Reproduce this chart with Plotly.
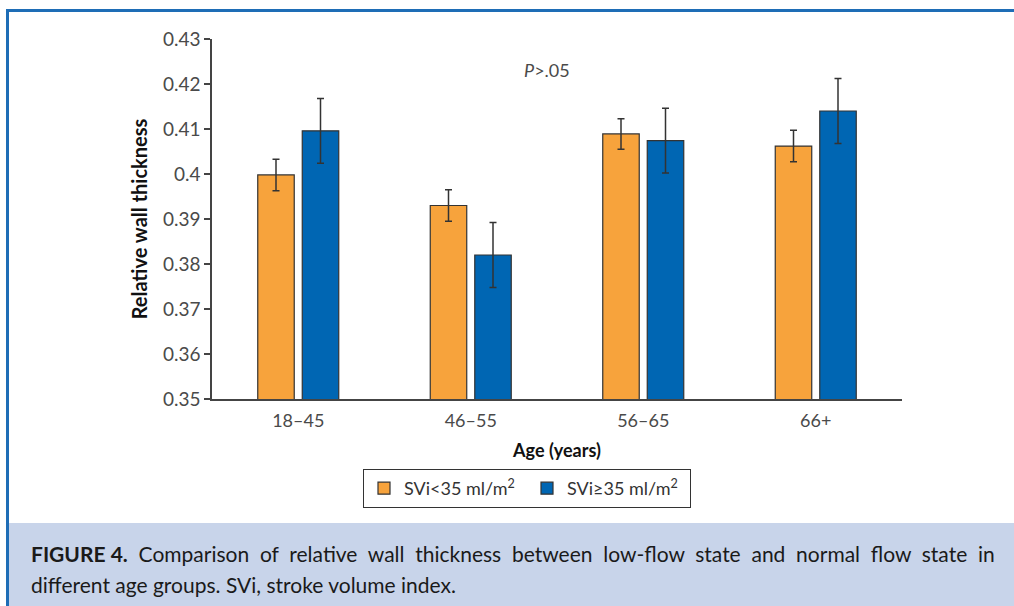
import plotly.graph_objects as go

categories = ["18–45", "46–55", "56–65", "66+"]
low_flow = [0.3998, 0.3930, 0.4089, 0.4062]
low_flow_err = [0.0035, 0.0035, 0.0034, 0.0035]
normal_flow = [0.4096, 0.3820, 0.4074, 0.4140]
normal_flow_err = [0.0072, 0.0072, 0.0072, 0.0072]
y_ticks = [0.35, 0.36, 0.37, 0.38, 0.39, 0.40, 0.41, 0.42, 0.43]
y_tick_text = ["0.35", "0.36", "0.37", "0.38", "0.39", "0.4", "0.41", "0.42", "0.43"]

caption_line1 = "Comparison of relative wall thickness between low-flow state and normal flow state in"
caption_line2 = "different age groups. SVi, stroke volume index."

W, H = 1014, 606
L, R, T, B = 212, 902, 39, 399
FONT = "Lato"


def px(x):
    return (x - L) / (R - L)


def py(y):
    return (B - y) / (B - T)


fig = go.Figure()
fig.add_trace(go.Bar(
    x=categories, y=low_flow, name="SVi<35 ml/m<sup>2</sup>",
    marker=dict(color="#F7A33C", line=dict(color="#333333", width=1.2)),
    error_y=dict(type="data", array=low_flow_err, color="#333333", thickness=1.5, width=3.5),
))
fig.add_trace(go.Bar(
    x=categories, y=normal_flow, name="SVi≥35 ml/m<sup>2</sup>",
    marker=dict(color="#0066B3", line=dict(color="#333333", width=1.2)),
    error_y=dict(type="data", array=normal_flow_err, color="#333333", thickness=1.5, width=3.5),
))

fig.update_layout(
    width=W, height=H,
    margin=dict(l=L, r=W - R, t=T, b=H - B),
    paper_bgcolor="white", plot_bgcolor="white",
    barmode="group", bargap=0.484, bargroupgap=0.18,
    font=dict(family=FONT, size=18, color="#4a4a4a"),
    showlegend=True,
    legend=dict(
        orientation="h", x=px(363), y=py(469), xanchor="left", yanchor="top",
        bordercolor="#333333", borderwidth=1, font=dict(size=18, color="#333333"),
        bgcolor="white", traceorder="normal", entrywidth=118,
    ),
    xaxis=dict(
        showline=True, linecolor="#444444", linewidth=1.5, ticks="",
        showgrid=False, tickfont=dict(size=18, color="#4a4a4a"), ticklabelstandoff=5,
        title=dict(text="<b>Age (years)</b>", font=dict(size=18, color="#111111"), standoff=14),
    ),
    yaxis=dict(
        range=[0.35, 0.43], tickvals=y_ticks, ticktext=y_tick_text,
        showline=True, linecolor="#444444", linewidth=1.5, ticks="outside",
        ticklen=6, tickcolor="#444444", tickwidth=1.5, showgrid=False, zeroline=False,
        tickfont=dict(size=19, color="#4a4a4a"),
        title=dict(text="<b>Relative wall thickness</b>", font=dict(size=20, color="#111111"), standoff=10),
    ),
)

shapes = [
    dict(type="rect", xref="paper", yref="paper", x0=px(9), x1=px(W), y0=py(523), y1=py(H),
         fillcolor="#C8D4EA", line=dict(width=0), layer="below"),
    dict(type="line", xref="paper", yref="paper", x0=px(6), x1=px(W), y0=py(10.5), y1=py(10.5),
         line=dict(color="#1E6DB6", width=3)),
    dict(type="line", xref="paper", yref="paper", x0=px(7.5), x1=px(7.5), y0=py(9), y1=py(H),
         line=dict(color="#1E6DB6", width=3)),
]
fig.update_layout(shapes=shapes)

fig.add_annotation(x=px(547), y=py(70), xref="paper", yref="paper", xanchor="center", yanchor="middle",
                   text="<i>P</i>>.05", showarrow=False, font=dict(size=18, color="#4a4a4a"))

justified1 = " \u00a0".join(caption_line1.split(" "))
fig.add_annotation(x=px(29), y=py(553), xref="paper", yref="paper", xanchor="left", yanchor="middle",
                   text="<b>FIGURE 4.</b> \u00a0" + justified1,
                   showarrow=False, font=dict(size=21, color="#1a1a1a"))
fig.add_annotation(x=px(29), y=py(584), xref="paper", yref="paper", xanchor="left", yanchor="middle",
                   text=caption_line2,
                   showarrow=False, font=dict(size=21, color="#1a1a1a"))

fig.write_html("out.html", config={"displayModeBar": False},
               post_script="document.body.style.margin='0px';")
